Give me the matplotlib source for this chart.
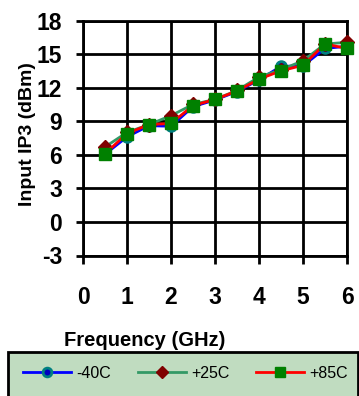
import matplotlib
matplotlib.use("Agg")
import matplotlib.pyplot as plt
from matplotlib.patches import Rectangle

plt.rcParams['font.family'] = ['Liberation Sans', 'DejaVu Sans']
plt.rcParams['axes.unicode_minus'] = False

freq = [0.5, 1.0, 1.5, 2.0, 2.5, 3.0, 3.5, 4.0, 4.5, 5.0, 5.5, 6.0]
ip3_m40 = [6.05, 7.6, 8.6, 8.55, 10.3, 10.9, 11.65, 12.7, 13.9, 13.95, 15.5, 15.7]
ip3_p25 = [6.7, 8.0, 8.7, 9.5, 10.5, 10.95, 11.75, 12.95, 13.6, 14.4, 15.9, 16.05]
ip3_p85 = [6.1, 7.9, 8.7, 8.8, 10.4, 10.95, 11.7, 12.76, 13.5, 14.0, 15.9, 15.5]
labels = ['-40C', '+25C', '+85C']
xticks = [0, 1, 2, 3, 4, 5, 6]
yticks = [-3, 0, 3, 6, 9, 12, 15, 18]

W, H = 359, 396
fig = plt.figure(figsize=(W / 100, H / 100), dpi=100)
ax = fig.add_axes([83 / W, 1 - 255.5 / H, (347 - 83) / W, (255.5 - 20.5) / H])

h1, = ax.plot(freq, ip3_m40, color='#0000ff', lw=2, marker='o', ms=7,
              mfc='#0000c0', mec='#008080', mew=2, label=labels[0], zorder=3, clip_on=False)
h2, = ax.plot(freq, ip3_p25, color='#339966', lw=2, marker='D', ms=7,
              mfc='#800000', mec='#800000', label=labels[1], zorder=4, clip_on=False)
h3, = ax.plot(freq, ip3_p85, color='#ff0000', lw=2, marker='s', ms=8,
              mfc='#008000', mec='#008000', label=labels[2], zorder=5, clip_on=False)

ax.set_xlim(0, 6)
ax.set_ylim(-3, 18)
ax.set_xticks(xticks)
ax.set_yticks(yticks)
ax.grid(True, color='black', lw=2)
ax.set_axisbelow(True)
for s in ax.spines.values():
    s.set_linewidth(2)
    s.set_color('black')
ax.tick_params(axis='y', length=5, width=2, pad=10, labelsize=16.5)
ax.tick_params(axis='x', length=6, width=2, pad=16, labelsize=16.5)
for t in ax.get_xticklabels() + ax.get_yticklabels():
    t.set_fontweight('bold')

fig.text(27 / W, 1 - 134 / H, 'Input IP3 (dBm)', rotation=90, ha='center', va='center',
         fontsize=14, fontweight='bold')
fig.text(145 / W, 1 - 340 / H, 'Frequency (GHz)', ha='center', va='center',
         fontsize=14.5, fontweight='bold')

rect = Rectangle((8 / W, -0.05), (358 - 8) / W, 1 - 352 / H + 0.05, transform=fig.transFigure,
                 facecolor='#c0dcc0', edgecolor='black', lw=2, zorder=0)
fig.patches.append(rect)

leg = fig.legend(handles=[h1, h2, h3], loc='center left', bbox_to_anchor=(23 / W, 1 - 373 / H),
                 ncol=3, frameon=False, fontsize=11.5, handlelength=3.0, handletextpad=0.32,
                 columnspacing=1.7, borderaxespad=0, borderpad=0, markerscale=0.9)

fig.savefig('out.png', dpi=100)
